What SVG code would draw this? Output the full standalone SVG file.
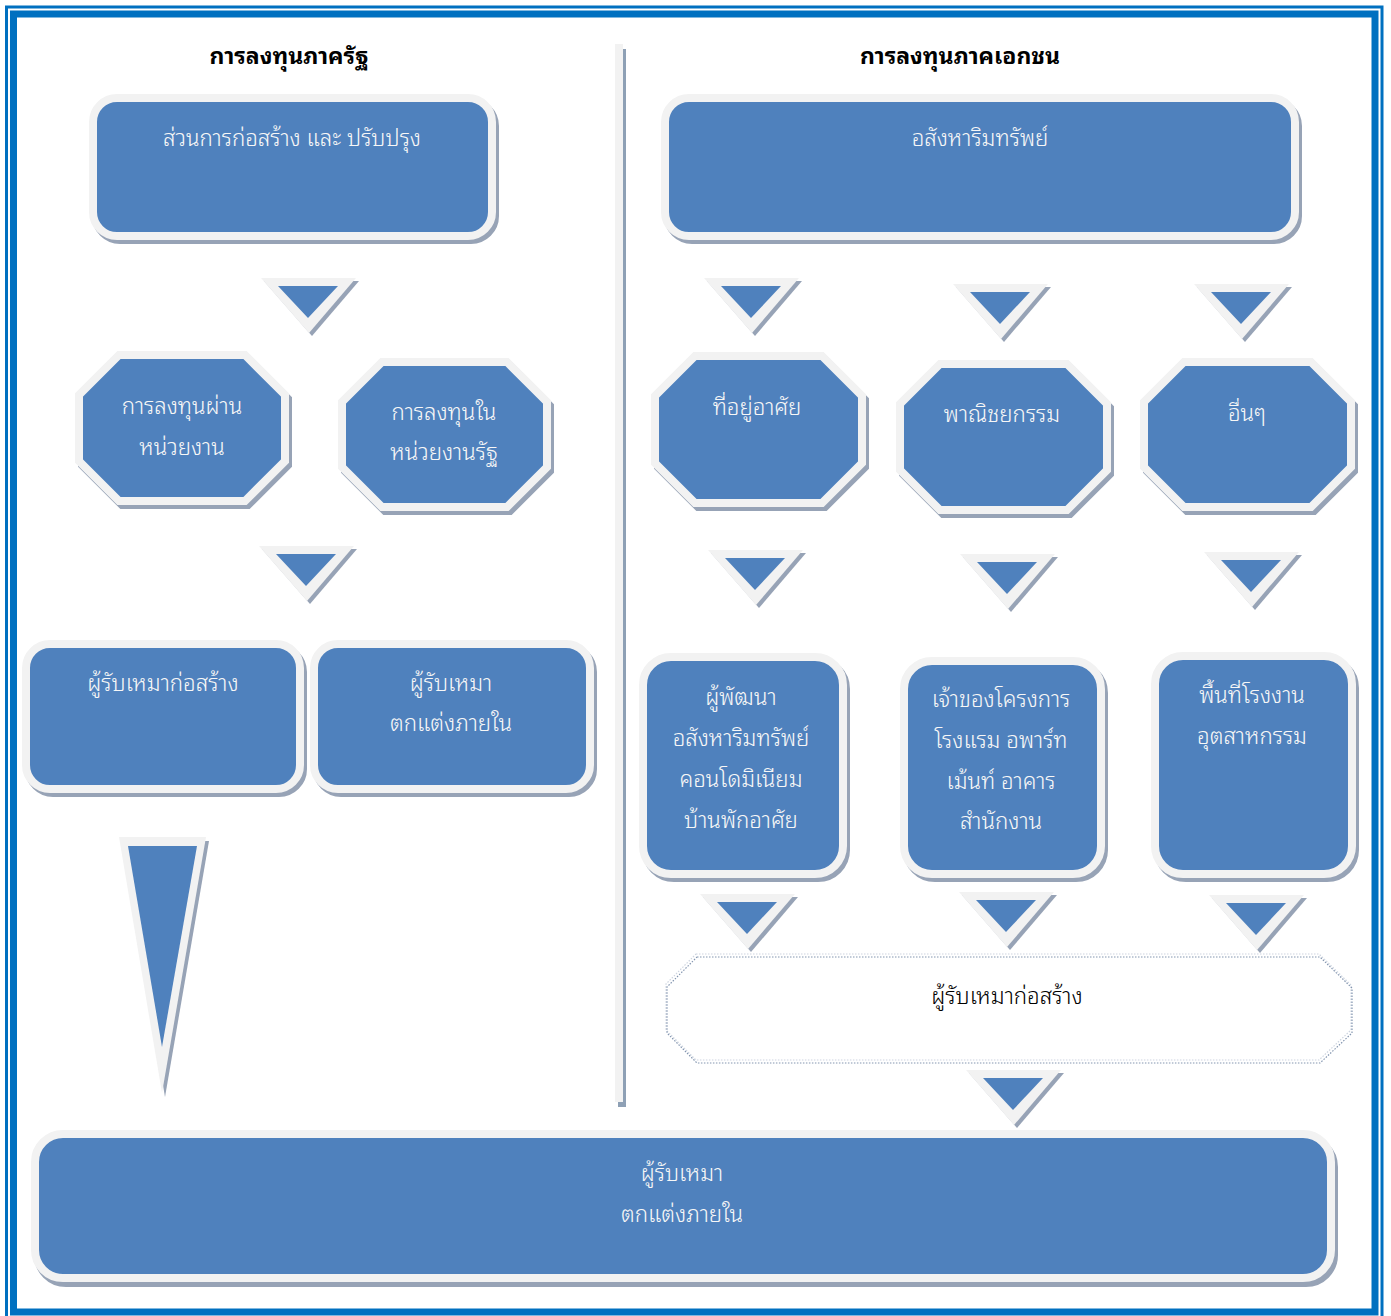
<svg xmlns="http://www.w3.org/2000/svg" xmlns:xlink="http://www.w3.org/1999/xlink" width="1391" height="1316" viewBox="0 0 1391 1316">
<style>
.sh{fill:#97A3B6;stroke:#97A3B6;stroke-width:8;stroke-linejoin:miter}
.nd{fill:#4F81BD;stroke:#F2F2F2;stroke-width:8;stroke-linejoin:miter}
.t{font-family:"Noto Sans Thai Looped","Loma","Garuda","Noto Sans Thai","Tlwg Typo","DejaVu Sans",sans-serif;font-size:22.3px;font-weight:300;fill:#F7F7F7;text-anchor:middle}
.h{font-family:"Noto Sans Thai Looped","Loma","Garuda","Noto Sans Thai","Tlwg Typo","DejaVu Sans",sans-serif;font-size:23px;font-weight:bold;fill:#000;text-anchor:middle}
.d{font-family:"Noto Sans Thai Looped","Loma","Garuda","Noto Sans Thai","Tlwg Typo","DejaVu Sans",sans-serif;font-size:22.3px;font-weight:300;fill:#000;text-anchor:middle}
.to{fill:#F2F2F2}
.ti{fill:#4F81BD}
.ts{fill:#97A3B6}
</style>
<defs>
<g id="tri">
<polygon class="ts" points="3,3 98,3 51,58"/>
<polygon class="to" points="0,0 95,0 48,55"/>
<polygon class="ti" points="17,8 77,8 47,40"/>
</g>
</defs>
<rect x="0" y="0" width="1391" height="1316" fill="#FFFFFF"/>
<!-- page border -->
<rect x="6.5" y="7" width="1375.5" height="1320" fill="none" stroke="#0070C0" stroke-width="3"/>
<rect x="13.5" y="14" width="1361.5" height="1298" fill="none" stroke="#0070C0" stroke-width="7"/>

<!-- separator -->
<g id="separator">
<rect x="618" y="49" width="8" height="1058" fill="#8EA0B5"/>
<rect x="615" y="44" width="8" height="1058" fill="#F2F2F2"/>
</g>

<!-- headers -->
<text class="h" x="289" y="64">การลงทุนภาครัฐ</text>
<text class="h" x="960" y="64">การลงทุนภาคเอกชน</text>

<!-- connectors -->
<g id="connectors">
<use xlink:href="#tri" x="261" y="278"/>
<use xlink:href="#tri" x="259" y="546"/>
<use xlink:href="#tri" x="704" y="278"/>
<use xlink:href="#tri" x="953" y="284"/>
<use xlink:href="#tri" x="1194" y="284"/>
<use xlink:href="#tri" x="708" y="550"/>
<use xlink:href="#tri" x="960" y="554"/>
<use xlink:href="#tri" x="1204" y="552"/>
<use xlink:href="#tri" x="700" y="894"/>
<use xlink:href="#tri" x="959" y="892"/>
<use xlink:href="#tri" x="1209" y="895"/>
<use xlink:href="#tri" x="966" y="1070"/>
<g id="tall-arrow">
<polygon class="ts" points="122,841 209,841 165,1097"/>
<polygon class="to" points="119,837 206,837 162,1093"/>
<polygon class="ti" points="128,846 197,846 162,1047"/>
</g>
</g>

<!-- nodes -->
<g id="n-public-construction">
<rect class="sh" x="96" y="102" width="399" height="138" rx="24"/>
<rect class="nd" x="93" y="98" width="399" height="138" rx="24"/>
<text class="t" x="292" y="146">ส่วนการก่อสร้าง และ ปรับปรุง</text>
</g>

<g id="n-real-estate">
<rect class="sh" x="668" y="102" width="630" height="138" rx="24"/>
<rect class="nd" x="665" y="98" width="630" height="138" rx="24"/>
<text class="t" x="980" y="146">อสังหาริมทรัพย์</text>
</g>

<g id="n-via-agency">
<polygon class="sh" transform="translate(3,4)" points="119,355 245,355 285,395 285,461 245,501 119,501 79,461 79,395"/>
<polygon class="nd" points="119,355 245,355 285,395 285,461 245,501 119,501 79,461 79,395"/>
<text class="t" x="182" y="414">การลงทุนผ่าน</text>
<text class="t" x="182" y="455">หน่วยงาน</text>
</g>

<g id="n-in-agency">
<polygon class="sh" transform="translate(3,4)" points="382,362 507,362 547,402 547,467 507,507 382,507 342,467 342,402"/>
<polygon class="nd" points="382,362 507,362 547,402 547,467 507,507 382,507 342,467 342,402"/>
<text class="t" x="444" y="420">การลงทุนใน</text>
<text class="t" x="444" y="460">หน่วยงานรัฐ</text>
</g>

<g id="n-residential">
<polygon class="sh" transform="translate(3,4)" points="695,356 822,356 862,396 862,463 822,503 695,503 655,463 655,396"/>
<polygon class="nd" points="695,356 822,356 862,396 862,463 822,503 695,503 655,463 655,396"/>
<text class="t" x="757" y="415">ที่อยู่อาศัย</text>
</g>

<g id="n-commercial">
<polygon class="sh" transform="translate(3,4)" points="940,364 1067,364 1107,404 1107,470 1067,510 940,510 900,470 900,404"/>
<polygon class="nd" points="940,364 1067,364 1107,404 1107,470 1067,510 940,510 900,470 900,404"/>
<text class="t" x="1002" y="422">พาณิชยกรรม</text>
</g>

<g id="n-other">
<polygon class="sh" transform="translate(3,4)" points="1184,362 1311,362 1351,402 1351,467 1311,507 1184,507 1144,467 1144,402"/>
<polygon class="nd" points="1184,362 1311,362 1351,402 1351,467 1311,507 1184,507 1144,467 1144,402"/>
<text class="t" x="1247" y="421">อื่นๆ</text>
</g>

<g id="n-contractor-left">
<rect class="sh" x="29" y="648" width="274" height="145" rx="24"/>
<rect class="nd" x="26" y="644" width="274" height="145" rx="24"/>
<text class="t" x="163" y="691">ผู้รับเหมาก่อสร้าง</text>
</g>

<g id="n-interior-left">
<rect class="sh" x="317" y="648" width="276" height="145" rx="24"/>
<rect class="nd" x="314" y="644" width="276" height="145" rx="24"/>
<text class="t" x="451" y="691">ผู้รับเหมา</text>
<text class="t" x="451" y="731">ตกแต่งภายใน</text>
</g>

<g id="n-developer">
<rect class="sh" x="646" y="661" width="200" height="217" rx="28"/>
<rect class="nd" x="643" y="657" width="200" height="217" rx="28"/>
<text class="t" x="741" y="705">ผู้พัฒนา</text>
<text class="t" x="741" y="746">อสังหาริมทรัพย์</text>
<text class="t" x="741" y="787">คอนโดมิเนียม</text>
<text class="t" x="741" y="828">บ้านพักอาศัย</text>
</g>

<g id="n-owner">
<rect class="sh" x="907" y="665" width="197" height="213" rx="28"/>
<rect class="nd" x="904" y="661" width="197" height="213" rx="28"/>
<text class="t" x="1001" y="707">เจ้าของโครงการ</text>
<text class="t" x="1001" y="748">โรงแรม อพาร์ท</text>
<text class="t" x="1001" y="789">เม้นท์ อาคาร</text>
<text class="t" x="1001" y="829">สำนักงาน</text>
</g>

<g id="n-factory">
<rect class="sh" x="1158" y="660" width="197" height="218" rx="28"/>
<rect class="nd" x="1155" y="656" width="197" height="218" rx="28"/>
<text class="t" x="1252" y="703">พื้นที่โรงงาน</text>
<text class="t" x="1252" y="744">อุตสาหกรรม</text>
</g>

<g id="n-contractor-right">
<polygon transform="translate(-1,-3)" points="697,957 1320,957 1352,988 1352,1033 1320,1063 697,1063 667,1033 667,987" fill="none" stroke="#CDD4DF" stroke-width="1.2" stroke-dasharray="1.5 1.5"/>
<polygon points="697,957 1320,957 1352,988 1352,1033 1320,1063 697,1063 667,1033 667,987" fill="none" stroke="#8496B0" stroke-width="1.2" stroke-dasharray="1.5 1.5"/>
<text class="d" x="1007" y="1004">ผู้รับเหมาก่อสร้าง</text>
</g>

<g id="n-interior-bottom">
<rect class="sh" x="38" y="1139" width="1296" height="144" rx="28"/>
<rect class="nd" x="35" y="1134" width="1296" height="144" rx="28"/>
<text class="t" x="682" y="1181">ผู้รับเหมา</text>
<text class="t" x="682" y="1222">ตกแต่งภายใน</text>
</g>
</svg>
